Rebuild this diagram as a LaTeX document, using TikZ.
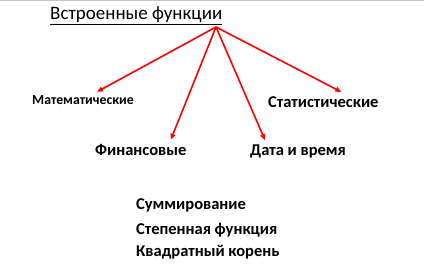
\documentclass[tikz,border=0pt]{standalone}
\usepackage{fontspec}
\setmainfont{Carlito}
\usetikzlibrary{arrows.meta,positioning}

\tikzset{
  item/.style={anchor=base west,inner sep=0pt,font=\fontsize{16.5}{18}\selectfont\bfseries},
  link/.style={-{Triangle[length=6pt,width=5pt]},red,line width=1.6pt}
}

\begin{document}
\begin{tikzpicture}[x=1pt,y=-1pt]
\useasboundingbox (0,0) rectangle (441,278);
\draw[gray!45,line width=1.5pt] (0,0.5) -- (424,0.5);
\node[anchor=base west,inner sep=0pt,font=\fontsize{19}{21}\selectfont] (root) at (50,20) {\underline{Встроенные функции}};
\coordinate (src) at (216,27);
\node[item,font=\fontsize{13.8}{15}\selectfont\bfseries] (math) at (32,104) {Математические};
\node[item] (stat) at (268,107) {Статистические};
\node[item] (fin) at (95,155) {Финансовые};
\node[item] (date) at (250,155) {Дата и время};
\node[item] (sum) at (136,209) {Суммирование};
\node[item] (pow) at (136,234) {Степенная функция};
\node[item] (sqrt) at (136,256) {Квадратный корень};
\draw[link] (src) -- ([xshift=14pt,yshift=3pt]math.north);
\draw[link] (src) -- ([xshift=30pt,yshift=4pt]fin.north);
\draw[link] (src) -- ([xshift=-33pt,yshift=4pt]date.north);
\draw[link] (src) -- ([xshift=18pt,yshift=4pt]stat.north);
\end{tikzpicture}
\end{document}
